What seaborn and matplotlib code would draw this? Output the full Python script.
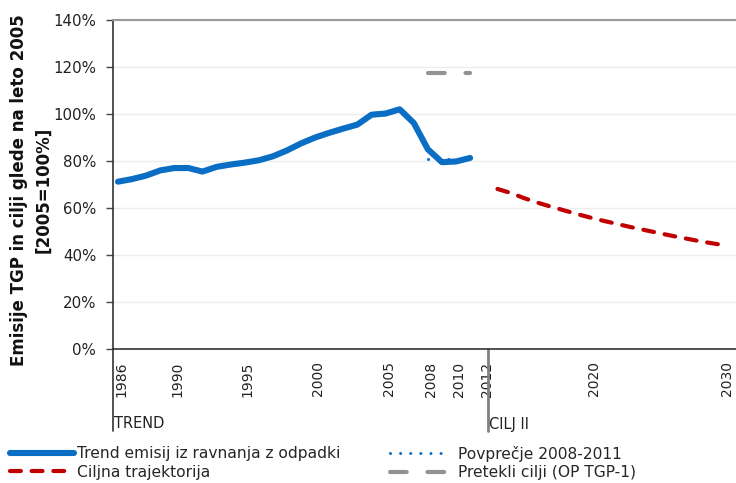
import numpy as np
import pandas as pd
import matplotlib
matplotlib.use("Agg")
import matplotlib.pyplot as plt
import matplotlib.transforms as mtransforms
import seaborn as sns

# ---- data ----
trend_years = list(range(1986, 2012))
trend_values = [71.2, 72.3, 73.8, 76.0, 77.0, 77.0, 75.5, 77.5, 78.5, 79.3,
                80.3, 82.0, 84.5, 87.5, 90.0, 92.0, 93.8, 95.5, 99.7, 100.2,
                102.0, 96.2, 85.0, 79.5, 79.8, 81.3]
avg_years = [2008, 2011]
avg_values = [81.0, 81.0]
past_years = [2008, 2011]
past_values = [117.5, 117.5]
target_years = list(range(2013, 2031))
target_values = [68.1, 66.4, 64.2, 62.3, 60.6, 59.0, 57.4, 55.9, 54.5, 53.2,
                 51.9, 50.7, 49.5, 48.3, 47.2, 46.1, 45.1, 44.2]
tick_years = [1986, 1990, 1995, 2000, 2005, 2008, 2010, 2012, 2020, 2030]
y_ticks = [0, 20, 40, 60, 80, 100, 120, 140]
y_labels = [f"{v}%" for v in y_ticks]

lbl_trend = "Trend emisij iz ravnanja z odpadki"
lbl_avg = "Povprečje 2008-2011"
lbl_target = "Ciljna trajektorija"
lbl_past = "Pretekli cilji (OP TGP-1)"
ylabel_1 = "Emisije TGP in cilji glede na leto 2005"
ylabel_2 = "[2005=100%]"
section_1 = "TREND"
section_2 = "CILJ II"

BLUE = "#0a6ec4"
RED = "#c00000"
GREY = "#939393"
TXT = "#222222"

sns.set_style("white")
plt.rcParams["font.family"] = ["DejaVu Sans"]

fig = plt.figure(figsize=(7.36, 4.83), dpi=100)
W, H = 736, 483
ax = fig.add_axes([113 / W, 1 - 349 / H, (W - 113) / W, (349 - 20) / H])

df_trend = pd.DataFrame({"year": trend_years, "value": trend_values})
df_avg = pd.DataFrame({"year": avg_years, "value": avg_values})
df_target = pd.DataFrame({"year": target_years, "value": target_values})
df_past = pd.DataFrame({"year": past_years, "value": past_values})

sns.lineplot(data=df_trend, x="year", y="value", ax=ax, color=BLUE,
             linewidth=4.4, label=lbl_trend, solid_capstyle="round",
             solid_joinstyle="round")
sns.lineplot(data=df_target, x="year", y="value", ax=ax, color=RED,
             linewidth=3.0, label=lbl_target)
sns.lineplot(data=df_avg, x="year", y="value", ax=ax, color=BLUE,
             linewidth=2.2, label=lbl_avg)
sns.lineplot(data=df_past, x="year", y="value", ax=ax, color=GREY,
             linewidth=3.0, label=lbl_past)

l_trend, l_target, l_avg, l_past = ax.lines[:4]
l_target.set_dashes((2.6, 2.6))
l_target.set_dash_capstyle("round")
l_avg.set_dashes((0.01, 3.3))
l_avg.set_dash_capstyle("round")
l_past.set_dashes((4.0, 5.0))
l_past.set_dash_capstyle("round")

# piecewise category-like x scale (trend part wider than target part)
R = 13.3 / 14.08


def fwd(x):
    x = np.asarray(x, dtype=float)
    return np.where(x <= 2012, x - 1986, 26 + (x - 2012) * R)


def inv(u):
    u = np.asarray(u, dtype=float)
    return np.where(u <= 26, u + 1986, 2012 + (u - 26) / R)


ax.set_xscale("function", functions=(fwd, inv))
ax.set_xlim(1985.645, 2030.93)
ax.set_ylim(0, 140)

ax.set_yticks(y_ticks)
ax.set_yticklabels(y_labels, fontsize=10.8, color=TXT)
ax.set_xticks(tick_years)
ax.set_xticklabels([str(y) for y in tick_years], rotation=90, va="top",
                   ha="center", fontsize=10, color=TXT)
ax.tick_params(axis="x", length=0, pad=9)
ax.tick_params(axis="y", length=5, width=1, color="#444444", pad=7, left=True)
shift = mtransforms.ScaledTranslation(3 / 100, 0, fig.dpi_scale_trans)
for lab in ax.get_xticklabels():
    lab.set_transform(lab.get_transform() + shift)
ax.set_xlabel("")
ax.set_ylabel("")

ax.grid(axis="y", color="#ededed", linewidth=1)
ax.set_axisbelow(True)
for s in ["left", "bottom"]:
    ax.spines[s].set_color("#333333")
    ax.spines[s].set_linewidth(1.2)
ax.spines["top"].set_color("#9a9a9a")
ax.spines["top"].set_linewidth(1.5)
ax.spines["right"].set_visible(False)

# extension lines below the axis (section dividers)
ext = (431 - 349) / (349 - 20)
ax.plot([0, 0], [0, -ext], transform=ax.transAxes, clip_on=False,
        color="#333333", linewidth=1.2)
blend = mtransforms.blended_transform_factory(ax.transData, ax.transAxes)
ax.plot([2012.3, 2012.3], [0, -ext], transform=blend, clip_on=False,
        color="#808080", linewidth=2)

ty = -(424 - 349) / (349 - 20)
ax.text(0.002, ty, section_1, transform=ax.transAxes, fontsize=10.5,
        va="center", ha="left", color=TXT)
ax.text(2012.4, ty, section_2, transform=blend, fontsize=10.5,
        va="center", ha="left", color=TXT)

# y label
fig.text(19 / W, 1 - 190 / H, ylabel_1, rotation=90, ha="center", va="center",
         fontsize=12, fontweight="bold", color="#111111")
fig.text(43 / W, 1 - 190 / H, ylabel_2, rotation=90, ha="center", va="center",
         fontsize=12, fontweight="bold", color="#111111")

# legends
handles, labels = ax.get_legend_handles_labels()
ax.get_legend().remove()
hmap = dict(zip(labels, handles))
leg1 = fig.legend([hmap[lbl_trend], hmap[lbl_target]], [lbl_trend, lbl_target],
                  loc="center left", bbox_to_anchor=(10 / W, 1 - 463 / H),
                  frameon=False, fontsize=11.2, handlelength=4.1,
                  handletextpad=0.2, labelspacing=0.25, borderpad=0,
                  borderaxespad=0)
leg2 = fig.legend([hmap[lbl_avg], hmap[lbl_past]], [lbl_avg, lbl_past],
                  loc="center left", bbox_to_anchor=(390 / W, 1 - 463 / H),
                  frameon=False, fontsize=11.2, handlelength=3.6,
                  handletextpad=0.75, labelspacing=0.25, borderpad=0,
                  borderaxespad=0)

fig.savefig("out.png", dpi=100)
